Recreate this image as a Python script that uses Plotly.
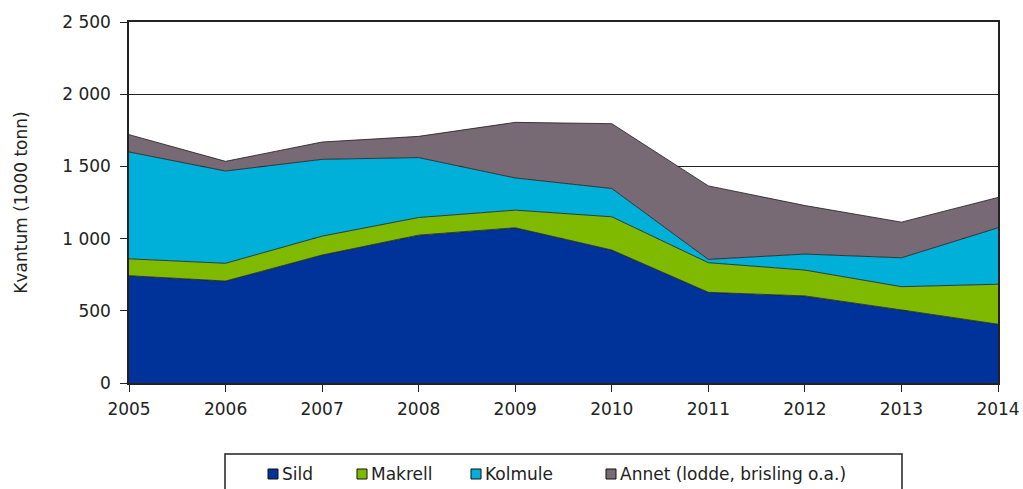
import plotly.graph_objects as go

# Fangst per art, 1000 tonn (lest av figuren)
years = [2005, 2006, 2007, 2008, 2009, 2010, 2011, 2012, 2013, 2014]
sild = [743, 706, 886, 1024, 1075, 921, 628, 603, 506, 407]
makrell = [117, 123, 131, 122, 122, 230, 205, 179, 161, 277]
kolmule = [740, 639, 532, 415, 223, 196, 23, 111, 200, 391]
annet = [120, 67, 120, 147, 385, 449, 509, 336, 247, 210]

names = ["Sild", "Makrell", "Kolmule", "Annet (lodde, brisling o.a.)"]
colors = ["#003399", "#80BA00", "#00B0D8", "#786A75"]
values = [sild, makrell, kolmule, annet]

W, H = 1023, 489
L, R, T, B = 129, 998, 22, 383  # plot area in pixels


def px(x):  # pixel -> paper x
    return (x - L) / (R - L)


def py(y):  # pixel -> paper y
    return (B - y) / (B - T)


fig = go.Figure()
for name, vals, col in zip(names, values, colors):
    fig.add_trace(go.Scatter(
        x=years, y=vals, name=name, mode="lines", stackgroup="one",
        line=dict(color="#1a1a1a", width=0.8), fillcolor=col,
    ))

# legend drawn by hand: framed box with small squares
fig.add_shape(type="rect", xref="paper", yref="paper",
              x0=px(225), x1=px(902), y0=py(500), y1=py(454),
              line=dict(color="#222", width=1.5), fillcolor="white")
leg_x = [268, 357, 471, 606]
for x0, name, col in zip(leg_x, names, colors):
    fig.add_shape(type="rect", xref="paper", yref="paper",
                  x0=px(x0), x1=px(x0 + 10), y0=py(479), y1=py(469),
                  line=dict(color="#111", width=1), fillcolor=col)
    fig.add_annotation(text=name, xref="paper", yref="paper",
                       x=px(x0 + 12), y=py(474), xanchor="left", yanchor="middle",
                       showarrow=False,
                       font=dict(family="DejaVu Sans", size=17, color="#222"))

fig.update_layout(
    width=W, height=H,
    margin=dict(l=L, r=W - R, t=T, b=H - B, autoexpand=False),
    plot_bgcolor="white", paper_bgcolor="white",
    separators=", ",
    font=dict(family="DejaVu Sans", size=17, color="#222"),
    showlegend=False,
)
fig.update_xaxes(range=[2005, 2014], tickvals=years, ticks="outside", ticklen=7,
                 tickcolor="#222", showline=True, linecolor="#222", linewidth=1.5,
                 mirror=True, showgrid=False, zeroline=False,
                 tickfont=dict(size=17), ticklabelstandoff=3)
fig.update_yaxes(range=[0, 2500], dtick=500, ticks="outside", ticklen=7,
                 tickcolor="#222", showline=True, linecolor="#222", linewidth=1.5,
                 mirror=True, showgrid=True, gridcolor="#222", gridwidth=1.2,
                 zeroline=False, tickformat=",d", tickfont=dict(size=17),
                 ticklabelstandoff=6,
                 title=dict(text="Kvantum (1000 tonn)", standoff=30, font=dict(size=17)))

# page without body margin / scrollbars so the figure fills the window
fig.write_html("out.html", config={"displayModeBar": False},
               post_script="document.body.style.margin='0';"
                           "document.body.style.overflow='hidden';")
